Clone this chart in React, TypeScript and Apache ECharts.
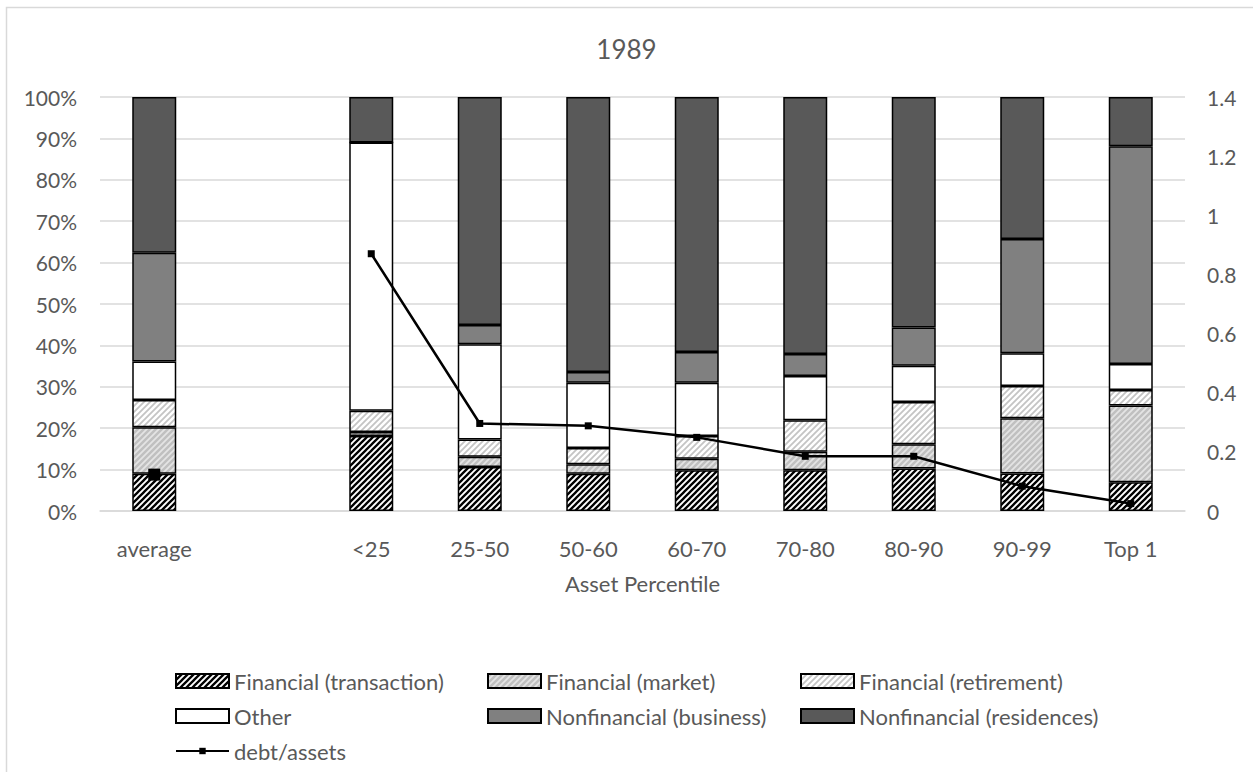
import React, { useEffect, useRef } from 'react';
import * as echarts from 'echarts';

const categories = ['average', '', '<25', '25-50', '50-60', '60-70', '70-80', '80-90', '90-99', 'Top 1'];
const finTransaction = [9.0, null, 18.1, 10.6, 9.0, 9.85, 9.85, 10.25, 9.05, 6.95];
const finMarket = [11.2, null, 1.0, 2.5, 2.3, 2.75, 4.45, 5.85, 13.35, 18.55];
const finRetirement = [6.6, null, 5.1, 4.2, 3.9, 5.5, 7.6, 10.2, 7.8, 3.7];
const otherAssets = [9.3, null, 64.8, 23.0, 15.8, 12.9, 10.7, 8.8, 7.9, 6.3];
const nonfinBusiness = [26.3, null, 0, 4.6, 2.6, 7.4, 5.3, 9.2, 27.6, 52.6];
const nonfinResidences = [37.6, null, 11.0, 55.1, 66.4, 61.6, 62.1, 55.7, 34.3, 11.9];
const debtToAssets = [0.123, null, 0.87, 0.296, 0.288, 0.249, 0.185, 0.185, 0.084, 0.025];

const seriesNames = [
  'Financial (transaction)',
  'Financial (market)',
  'Financial (retirement)',
  'Other',
  'Nonfinancial (business)',
  'Nonfinancial (residences)',
];
const lineName = 'debt/assets';
const title = '1989';
const xAxisName = 'Asset Percentile';

const FONT = 'Lato';
const TEXT = '#595959';
const GRID = '#d9d9d9';

function stripe(bg: string, fg: string, w: number) {
  const s = 6;
  const svg =
    `<svg xmlns='http://www.w3.org/2000/svg' width='${s}' height='${s}'>` +
    `<rect width='${s}' height='${s}' fill='${bg}'/>` +
    `<path d='M-1,1L1,-1M0,${s}L${s},0M${s - 1},${s + 1}L${s + 1},${s - 1}' stroke='${fg}' stroke-width='${w}'/>` +
    `</svg>`;
  return {
    image: 'data:image/svg+xml;charset=utf-8,' + encodeURIComponent(svg),
    repeat: 'repeat',
    imageWidth: s,
    imageHeight: s,
  };
}

export default function App() {
  const ref = useRef<HTMLDivElement>(null);
  useEffect(() => {
    document.body.style.margin = '0';
    if (!ref.current) return;
    const chart = echarts.init(ref.current, null, { renderer: 'svg' });
    const fills: any[] = [
      stripe('#ffffff', '#000000', 2.3),
      stripe('#c0c0c0', '#e4e4e4', 1.8),
      stripe('#ffffff', '#c4c4c4', 1.8),
      '#ffffff',
      '#808080',
      '#595959',
    ];
    const dataSets = [finTransaction, finMarket, finRetirement, otherAssets, nonfinBusiness, nonfinResidences];
    const barSeries = seriesNames.map((name, i) => ({
      name,
      type: 'bar',
      stack: 'total',
      data: dataSets[i],
      barWidth: 44,
      itemStyle: { color: fills[i], borderColor: '#000000', borderWidth: 1.5 },
      emphasis: { disabled: true },
    }));
    const textStyle = { color: TEXT, fontSize: 22, fontFamily: FONT };
    const numStyle = { color: TEXT, fontSize: 21, fontFamily: FONT };
    const legendCommon = {
      orient: 'vertical',
      top: 670,
      padding: 0,
      itemWidth: 53,
      itemHeight: 14,
      itemGap: 13,
      textStyle,
      selectedMode: false,
    };
    const rectItem = (name: string) => ({ name, icon: 'rect' });
    chart.setOption({
      animation: false,
      backgroundColor: '#ffffff',
      title: {
        text: title,
        left: 'center',
        top: 31,
        textStyle: { color: TEXT, fontSize: 26, fontWeight: 'normal', fontFamily: FONT },
      },
      graphic: [
        {
          type: 'rect',
          shape: { x: 6.5, y: 7.5, width: 1300, height: 800 },
          style: { fill: 'none', stroke: GRID, lineWidth: 1.5 },
          silent: true,
        },
      ],
      grid: { left: 100, right: 68, top: 97, bottom: 261 },
      legend: [
        { ...legendCommon, left: 175, data: [rectItem(seriesNames[0]), rectItem(seriesNames[3])] },
        { ...legendCommon, left: 487, data: [rectItem(seriesNames[1]), rectItem(seriesNames[4])] },
        { ...legendCommon, left: 800, data: [rectItem(seriesNames[2]), rectItem(seriesNames[5])] },
        { ...legendCommon, left: 175, top: 740, itemHeight: 8, data: [lineName] },
      ],
      xAxis: {
        type: 'category',
        data: categories,
        axisTick: { show: false },
        axisLine: { lineStyle: { color: GRID, width: 1.5 } },
        axisLabel: { ...textStyle, margin: 26, interval: 0 },
        name: xAxisName,
        nameLocation: 'middle',
        nameGap: 61,
        nameTextStyle: textStyle,
      },
      yAxis: [
        {
          type: 'value',
          min: 0,
          max: 100,
          interval: 10,
          axisLabel: { ...numStyle, margin: 23, formatter: '{value}%' },
          splitLine: { lineStyle: { color: GRID, width: 1.5 } },
          axisLine: { show: false },
          axisTick: { show: false },
        },
        {
          type: 'value',
          min: 0,
          max: 1.4,
          interval: 0.2,
          position: 'right',
          axisLabel: { ...numStyle, margin: 22 },
          splitLine: { show: false },
          axisLine: { show: false },
          axisTick: { show: false },
        },
      ],
      series: [
        ...barSeries,
        {
          name: lineName,
          type: 'line',
          yAxisIndex: 1,
          data: debtToAssets.map((v, i) => (i === 0 && v != null ? { value: v, symbolSize: 12 } : v)),
          symbol: 'rect',
          symbolSize: 7,
          showAllSymbol: true,
          connectNulls: false,
          lineStyle: { color: '#000000', width: 2.5 },
          itemStyle: { color: '#000000' },
          emphasis: { disabled: true },
          z: 10,
        },
      ],
    });
    return () => chart.dispose();
  }, []);
  return <div ref={ref} style={{ width: 1253, height: 772 }} />;
}
